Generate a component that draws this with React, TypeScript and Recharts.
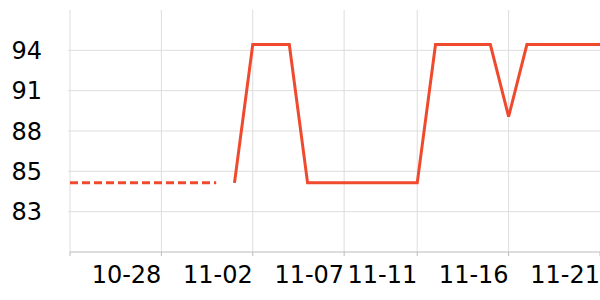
import React from 'react';
import { LineChart, Line, XAxis, YAxis, CartesianGrid } from 'recharts';

const dates = [
  '10-23','10-24','10-25','10-26','10-27','10-28','10-29','10-30','10-31',
  '11-01','11-02','11-03','11-04','11-05','11-06','11-07','11-08','11-09','11-10',
  '11-11','11-12','11-13','11-14','11-15','11-16','11-17','11-18','11-19','11-20','11-21',
];

const dashedValues: (number | null)[] = [
  85.1, 85.1, 85.1, 85.1, 85.1, 85.1, 85.1, 85.1, 85.1,
  null, null, null, null, null, null, null, null, null, null,
  null, null, null, null, null, null, null, null, null, null, null,
];

const solidValues: (number | null)[] = [
  null, null, null, null, null, null, null, null, null,
  85.1, 94.7, 94.7, 94.7, 85.1, 85.1, 85.1, 85.1, 85.1, 85.1,
  85.1, 94.7, 94.7, 94.7, 94.7, 89.7, 94.7, 94.7, 94.7, 94.7, 94.7,
];

const yTicks = [83.1, 85.9, 88.7, 91.5, 94.3];
const yTickLabels = ['83', '85', '88', '91', '94'];
const xTicks = ['10-23', '10-28', '11-02', '11-07', '11-11', '11-16', '11-21'];
const xTickLabels = ['', '10-28', '11-02', '11-07', '11-11', '11-16', '11-21'];
const yDomain: [number, number] = [80.3, 97.1];

const data = dates.map((d, i) => ({ date: d, dashed: dashedValues[i], solid: solidValues[i] }));

const FONT = '"DejaVu Sans", sans-serif';
const LINE = '#ef4a2d';

const XTick = (props: any) => {
  const { x, y, payload } = props;
  const idx = xTicks.indexOf(payload.value);
  const label = idx >= 0 ? xTickLabels[idx] : '';
  return (
    <text x={x} y={y} dy={17} textAnchor="end" fontSize={24} fontFamily={FONT} fill="#000">
      {label}
    </text>
  );
};

const YTick = (props: any) => {
  const { x, y, payload } = props;
  const idx = yTicks.indexOf(payload.value);
  const label = idx >= 0 ? yTickLabels[idx] : '';
  return (
    <text x={x} y={y} dy={8.5} textAnchor="end" fontSize={24} fontFamily={FONT} fill="#000">
      {label}
    </text>
  );
};

const hGen = (p: any) => {
  const { yAxis, offset } = p;
  if (yAxis && typeof yAxis.scale === 'function') {
    return yTicks.map((t) => yAxis.scale(t));
  }
  return yTicks.map((t) => offset.top + (offset.height * (yDomain[1] - t)) / (yDomain[1] - yDomain[0]));
};

const vGen = (p: any) => {
  const { xAxis, offset } = p;
  if (xAxis && typeof xAxis.scale === 'function') {
    return xTicks
      .map((t) => xAxis.scale(t) + (xAxis.scale.bandwidth ? xAxis.scale.bandwidth() / 2 : 0))
      .filter((v: number) => v < offset.left + offset.width - 1);
  }
  const n = dates.length - 1;
  return xTicks
    .map((t) => offset.left + (offset.width * dates.indexOf(t)) / n)
    .filter((v: number) => v < offset.left + offset.width - 1);
};

export default function App() {
  return (
    <div style={{ position: 'absolute', left: 0, top: 0 }}>
      <LineChart width={600} height={300} data={data} margin={{ top: 10, right: 0, bottom: 0, left: 0 }}>
        <CartesianGrid
          stroke="#dddddd"
          strokeWidth={1}
          horizontalCoordinatesGenerator={hGen}
          verticalCoordinatesGenerator={vGen}
        />
        <XAxis
          dataKey="date"
          ticks={xTicks}
          interval={0}
          height={48}
          tickSize={4}
          tickMargin={10}
          tick={<XTick />}
          axisLine={{ stroke: '#bbbbbb' }}
          tickLine={{ stroke: '#bbbbbb' }}
        />
        <YAxis
          type="number"
          domain={yDomain}
          ticks={yTicks}
          width={70}
          tickSize={2}
          tickMargin={26}
          tick={<YTick />}
          axisLine={false}
          tickLine={{ stroke: '#dddddd' }}
        />
        <Line
          dataKey="dashed"
          stroke={LINE}
          strokeWidth={3}
          strokeDasharray="8 4"
          dot={false}
          isAnimationActive={false}
          connectNulls={false}
        />
        <Line
          dataKey="solid"
          stroke={LINE}
          strokeWidth={3}
          dot={false}
          isAnimationActive={false}
          connectNulls={false}
        />
      </LineChart>
    </div>
  );
}
